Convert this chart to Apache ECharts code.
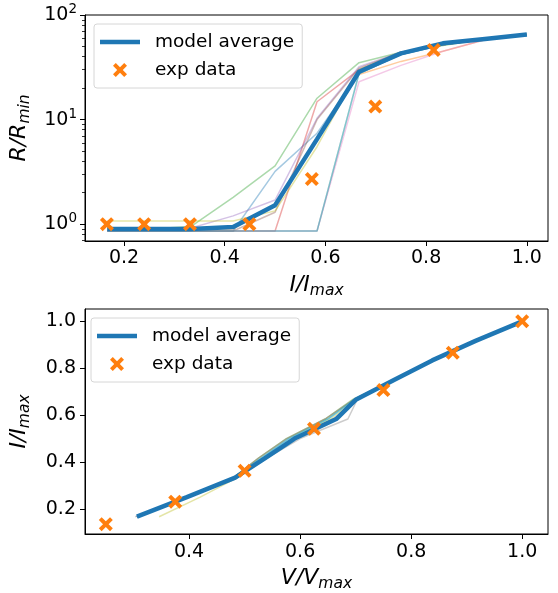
<!DOCTYPE html>
<html>
<head>
<meta charset="utf-8">
<script src="https://cdn.jsdelivr.net/npm/echarts@6/dist/echarts.min.js"></script>
<style>
html,body{margin:0;padding:0;background:#fff;}
#c{width:558px;height:593px;}
</style>
</head>
<body>
<div id="c"></div>
<script>
// ---------- top panel: R/Rmin vs I/Imax ----------
const topX = [0.1667, 0.25, 0.3333, 0.4167, 0.5, 0.5833, 0.6667, 0.75, 0.8333, 0.9167, 1.0];
const topAvg = [0.9, 0.9, 0.9, 0.94, 1.52, 6.5, 28.7, 43, 53.6, 59, 65];
const topMembers = [
  [0.86, 0.86, 0.86, 0.86, 3.2, 7.4, 27.6, 42, 52, 59, 65],
  [0.9, 0.9, 0.9, 0.9, 1.5, 6.5, 27, 36, 45, 58, 65],
  [0.9, 0.9, 0.95, 1.8, 3.6, 16, 35, 44, 51, 59, 65],
  [0.86, 0.86, 0.86, 0.86, 0.86, 14.8, 30, 43, 52, 59, 65],
  [0.9, 0.9, 0.92, 1.2, 1.7, 10.3, 32, 44, 52, 59, 65],
  [0.86, 0.86, 0.86, 0.86, 1.3, 10, 31, 44, 52, 59, 65],
  [0.86, 0.86, 0.86, 0.86, 0.86, 0.86, 23, 33, 45, 58, 65],
  [0.86, 0.86, 0.86, 0.86, 0.86, 0.86, 27.6, 42, 52, 59, 65],
  [1.07, 1.07, 1.07, 1.07, 1.34, 5.5, 30, 44, 52, 59, 65],
  [0.86, 0.86, 0.86, 0.86, 0.86, 0.86, 27.6, 42, 52, 59, 65]
];
const topExpX = [0.166, 0.240, 0.331, 0.449, 0.573, 0.699, 0.815];
const topExpY = [1.0, 1.0, 1.0, 1.0, 2.7, 13.3, 46.2];
const topXTicks = [0.2, 0.4, 0.6, 0.8, 1.0];
const topYMajor = [1, 10, 100];
const topYMinor = [0.7, 0.8, 0.9, 2, 3, 4, 5, 6, 7, 8, 9, 20, 30, 40, 50, 60, 70, 80, 90];

// ---------- bottom panel: I/Imax vs V/Vmax ----------
const botI = [0.1667, 0.25, 0.3333, 0.4167, 0.5, 0.5833, 0.6667, 0.75, 0.8333, 0.9167, 1.0];
const botAvgV = [0.306, 0.396, 0.483, 0.537, 0.59, 0.665, 0.701, 0.769, 0.838, 0.916, 1.0];
const botMembersV = [
  [0.306, 0.396, 0.48, 0.53, 0.58, 0.65, 0.698, 0.769, 0.838, 0.916, 1.0],
  [0.306, 0.396, 0.483, 0.537, 0.59, 0.665, 0.701, 0.769, 0.838, 0.916, 1.0],
  [0.306, 0.396, 0.48, 0.525, 0.575, 0.645, 0.695, 0.769, 0.838, 0.916, 1.0],
  [0.306, 0.396, 0.483, 0.537, 0.59, 0.665, 0.701, 0.769, 0.838, 0.916, 1.0],
  [0.306, 0.396, 0.483, 0.537, 0.59, 0.66, 0.70, 0.769, 0.838, 0.916, 1.0],
  [0.306, 0.396, 0.48, 0.525, 0.576, 0.645, 0.697, 0.769, 0.838, 0.916, 1.0],
  [0.306, 0.396, 0.483, 0.537, 0.59, 0.665, 0.701, 0.769, 0.838, 0.916, 1.0],
  [0.303, 0.396, 0.483, 0.54, 0.60, 0.686, 0.703, 0.769, 0.838, 0.916, 1.0],
  [0.346, 0.42, 0.487, 0.537, 0.585, 0.655, 0.70, 0.769, 0.838, 0.916, 1.0],
  [0.306, 0.396, 0.48, 0.53, 0.58, 0.65, 0.698, 0.769, 0.838, 0.916, 1.0]
];
const botExpV = [0.25, 0.375, 0.5, 0.625, 0.75, 0.875, 1.0];
const botExpI = [0.135, 0.231, 0.3625, 0.5416, 0.7067, 0.866, 1.0];
const botXTicks = [0.4, 0.6, 0.8, 1.0];
const botYTicks = [0.2, 0.4, 0.6, 0.8, 1.0];

const tab10 = ['#1f77b4','#ff7f0e','#2ca02c','#d62728','#9467bd','#8c564b','#e377c2','#7f7f7f','#bcbd22','#17becf'];
const FONT = 'DejaVu Sans';
const xMark = 'path://M0,2L2,0L5,3L8,0L10,2L7,5L10,8L8,10L5,7L2,10L0,8L3,5Z';
const lineIcon = 'path://M0,0L40,0L40,4.5L0,4.5Z';

const chart = echarts.init(document.getElementById('c'), null, {renderer: 'canvas'});

const tickLabel = {color: '#000', fontFamily: FONT, fontSize: 19};
const nameRich = {
  a: {fontFamily: FONT, fontStyle: 'italic', fontSize: 22, color: '#000'},
  b: {fontFamily: FONT, fontStyle: 'italic', fontSize: 15.5, color: '#000', padding: [12, 0, 0, 0]}
};

function pairs(xs, ys) { return xs.map((x, i) => [x, ys[i]]); }

const series = [];
topMembers.forEach((m, i) => {
  series.push({
    type: 'line', xAxisIndex: 0, yAxisIndex: 0, data: pairs(topX, m),
    symbol: 'none', silent: true, z: 1,
    lineStyle: {color: tab10[i], width: 1.5, opacity: 0.4}
  });
});
series.push({
  name: 'model average', type: 'line', xAxisIndex: 0, yAxisIndex: 0,
  data: pairs(topX, topAvg), symbol: 'none', z: 3,
  lineStyle: {color: '#1f77b4', width: 4.5}, itemStyle: {color: '#1f77b4'}
});
series.push({
  name: 'exp data', type: 'scatter', xAxisIndex: 0, yAxisIndex: 0,
  data: pairs(topExpX, topExpY), symbol: xMark, symbolSize: 14, z: 4,
  itemStyle: {color: '#ff7f0e', opacity: 1}
});
botMembersV.forEach((m, i) => {
  series.push({
    type: 'line', xAxisIndex: 1, yAxisIndex: 2, data: pairs(m, botI),
    symbol: 'none', silent: true, z: 1,
    lineStyle: {color: tab10[i], width: 1.5, opacity: 0.4}
  });
});
series.push({
  name: 'model average', type: 'line', xAxisIndex: 1, yAxisIndex: 2,
  data: pairs(botAvgV, botI), symbol: 'none', z: 3,
  lineStyle: {color: '#1f77b4', width: 4.5}, itemStyle: {color: '#1f77b4'}
});
series.push({
  name: 'exp data', type: 'scatter', xAxisIndex: 1, yAxisIndex: 2,
  data: pairs(botExpV, botExpI), symbol: xMark, symbolSize: 14, z: 4,
  itemStyle: {color: '#ff7f0e', opacity: 1}
});

const legendBase = {
  orient: 'vertical',
  backgroundColor: '#fff',
  borderColor: '#d6d6d6',
  borderWidth: 1,
  borderRadius: 3,
  itemWidth: 40,
  itemHeight: 14,
  itemGap: 6,
  padding: [7, 8, 7, 6],
  symbolKeepAspect: true,
  textStyle: {fontFamily: FONT, fontSize: 18.5, color: '#000', padding: [0, 0, 0, 10], lineHeight: 22},
  selectedMode: false,
  data: [{name: 'model average', icon: lineIcon}, {name: 'exp data', icon: xMark}]
};

chart.setOption({
  animation: false,
  backgroundColor: '#fff',
  grid: [
    {left: 85, right: 10, top: 15, height: 226, show: true, borderColor: '#000', borderWidth: 1, containLabel: false},
    {left: 82, right: 10, top: 309, height: 227, show: true, borderColor: '#000', borderWidth: 1, containLabel: false}
  ],
  legend: [
    Object.assign({}, legendBase, {left: 94, top: 24}),
    Object.assign({}, legendBase, {left: 91, top: 318})
  ],
  xAxis: [
    {
      type: 'value', gridIndex: 0, min: 0.1225, max: 1.042,
      name: '{a|I/I}{b|max}', nameLocation: 'middle', nameGap: 30,
      nameTextStyle: {rich: nameRich},
      axisLine: {show: true, onZero: false, lineStyle: {color: '#000', width: 1}},
      axisTick: {show: true, length: 5, lineStyle: {color: '#000'}, customValues: topXTicks},
      axisLabel: Object.assign({margin: 8, customValues: topXTicks, formatter: v => v.toFixed(1)}, tickLabel),
      splitLine: {show: false}
    },
    {
      type: 'value', gridIndex: 1, min: 0.2125, max: 1.0465,
      name: '{a|V/V}{b|max}', nameLocation: 'middle', nameGap: 30,
      nameTextStyle: {rich: nameRich},
      axisLine: {show: true, onZero: false, lineStyle: {color: '#000', width: 1}},
      axisTick: {show: true, length: 5, lineStyle: {color: '#000'}, customValues: botXTicks},
      axisLabel: Object.assign({margin: 9, customValues: botXTicks, formatter: v => v.toFixed(1)}, tickLabel),
      splitLine: {show: false}
    }
  ],
  yAxis: [
    {
      type: 'log', logBase: 10, gridIndex: 0, min: 0.69, max: 100,
      name: '{a|R/R}{b|min}', nameLocation: 'middle', nameGap: 50, nameRotate: 90,
      nameTextStyle: {rich: nameRich},
      axisLine: {show: true, onZero: false, lineStyle: {color: '#000', width: 1}},
      axisTick: {show: true, length: 5, lineStyle: {color: '#000'}, customValues: topYMajor},
      axisLabel: {
        margin: 8, customValues: topYMajor,
        formatter: v => '{b|10}{s|' + Math.round(Math.log10(v)) + '}',
        rich: {
          b: {fontFamily: FONT, fontSize: 19, color: '#000'},
          s: {fontFamily: FONT, fontSize: 13.5, color: '#000', padding: [0, 0, 11, 0]}
        }
      },
      splitLine: {show: false}
    },
    {
      type: 'log', logBase: 10, gridIndex: 0, min: 0.69, max: 100, position: 'left',
      axisLine: {show: false},
      axisTick: {show: true, length: 3, lineStyle: {color: '#000', width: 0.8}, customValues: topYMinor},
      axisLabel: {show: false},
      splitLine: {show: false}
    },
    {
      type: 'value', gridIndex: 1, min: 0.093, max: 1.0525,
      name: '{a|I/I}{b|max}', nameLocation: 'middle', nameGap: 52, nameRotate: 90,
      nameTextStyle: {rich: nameRich},
      axisLine: {show: true, onZero: false, lineStyle: {color: '#000', width: 1}},
      axisTick: {show: true, length: 5, lineStyle: {color: '#000'}, customValues: botYTicks},
      axisLabel: Object.assign({margin: 9, customValues: botYTicks, formatter: v => v.toFixed(1)}, tickLabel),
      splitLine: {show: false}
    }
  ],
  series: series
});
</script>
</body>
</html>
